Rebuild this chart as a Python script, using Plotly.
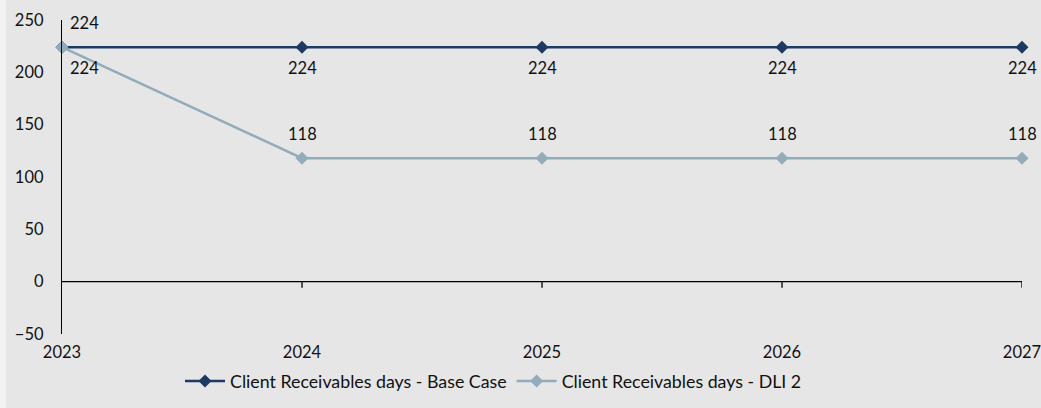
import plotly.graph_objects as go

years = [2023, 2024, 2025, 2026, 2027]
base_case = [224, 224, 224, 224, 224]
dli2 = [224, 118, 118, 118, 118]
series_names = ["Client Receivables days - Base Case", "Client Receivables days - DLI 2"]
y_ticks = [-50, 0, 50, 100, 150, 200, 250]

navy = "#1d3a63"
steel = "#92acba"
bg = "#e6e6e6"
font_family = "Lato, 'Open Sans', sans-serif"
fs = 16.5

W, H = 1041, 408
ML, MR, MT, MB = 62, 19, 20, 74

fig = go.Figure()

for name, vals, col in [(series_names[0], base_case, navy), (series_names[1], dli2, steel)]:
    fig.add_trace(go.Scatter(
        x=years, y=vals, name=name, mode="lines+markers",
        line=dict(color=col, width=2.5),
        marker=dict(symbol="diamond", size=10, color=col),
        cliponaxis=False,
    ))

# value labels: base case below its points, DLI 2 above; first point nudged right
annotations = []
for i, (yr, v) in enumerate(zip(years, base_case)):
    annotations.append(dict(x=yr, y=v, text=str(v), showarrow=False, yshift=-21,
                            xshift=22 if i == 0 else 0,
                            font=dict(size=fs, color="#111111")))
for i, (yr, v) in enumerate(zip(years, dli2)):
    annotations.append(dict(x=yr, y=v, text=str(v), showarrow=False, yshift=24,
                            xshift=22 if i == 0 else 0,
                            font=dict(size=fs, color="#111111")))

# category axis crosses at zero, with short tick marks below it
shapes = [dict(type="line", xref="paper", yref="y", x0=0, x1=1, y0=0, y1=0,
               line=dict(color="black", width=1.3), layer="above")]
for yr in years[1:]:
    shapes.append(dict(type="line", xref="x", yref="y", ysizemode="pixel", yanchor=0,
                       x0=yr, x1=yr, y0=0, y1=-6,
                       line=dict(color="black", width=1.3), layer="above"))
# thin light strip on the left edge of the canvas
PW, PH = W - ML - MR, H - MT - MB
shapes.append(dict(type="rect", xref="paper", yref="paper",
                   x0=-ML / PW, x1=-(ML - 6) / PW,
                   y0=-MB / PH, y1=1 + MT / PH,
                   fillcolor="#f2f2f2", line=dict(width=0), layer="below"))

fig.update_layout(
    width=W, height=H,
    margin=dict(l=ML, r=MR, t=MT, b=MB, autoexpand=False),
    paper_bgcolor=bg, plot_bgcolor=bg,
    font=dict(family=font_family, size=fs, color="#111111"),
    showlegend=True,
    legend=dict(orientation="h", x=(180 - ML) / PW, xanchor="left",
                y=-(363 - MT - PH) / PH, yanchor="top",
                font=dict(size=17.8), bgcolor="rgba(0,0,0,0)", itemwidth=40,
                tracegroupgap=0),
    shapes=shapes,
    annotations=annotations,
    xaxis=dict(range=[years[0], years[-1]], tickvals=years, ticktext=[str(y) for y in years],
               showgrid=False, zeroline=False, showline=False, ticks="",
               ticklabelstandoff=6, ticklabeloverflow="allow",
               tickfont=dict(size=fs), automargin=False),
    yaxis=dict(range=[-50, 250], tickvals=y_ticks, showgrid=False, zeroline=False,
               showline=True, linecolor="black", linewidth=1.3, ticks="",
               ticklabelstandoff=14, tickfont=dict(size=fs), automargin=False),
)

fig.write_html("out.html")
